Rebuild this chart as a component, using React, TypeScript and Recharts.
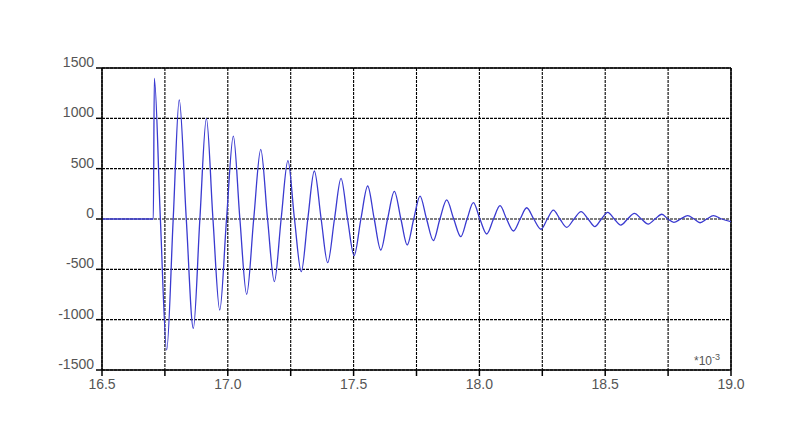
import React from 'react';
import { LineChart, Line, XAxis, YAxis, CartesianGrid, ReferenceLine } from 'recharts';

// time in ms (axis is *10^-3 s): extrema plus the zero crossings between them
const times = [
  16.5, 16.704, 16.708, 16.732, 16.757, 16.783, 16.807, 16.835, 16.863, 16.889,
  16.915, 16.941, 16.968, 16.995, 17.022, 17.048, 17.075, 17.103, 17.131, 17.158,
  17.185, 17.212, 17.239, 17.265, 17.292, 17.318, 17.344, 17.371, 17.397, 17.424,
  17.45, 17.476, 17.502, 17.529, 17.556, 17.582, 17.608, 17.635, 17.662, 17.688,
  17.713, 17.739, 17.764, 17.79, 17.817, 17.843, 17.87, 17.898, 17.926, 17.951,
  17.976, 18.002, 18.029, 18.056, 18.082, 18.108, 18.135, 18.162, 18.188, 18.216,
  18.245, 18.27, 18.294, 18.32, 18.347, 18.376, 18.404, 18.432, 18.459, 18.485,
  18.51, 18.536, 18.562, 18.589, 18.616, 18.644, 18.671, 18.698, 18.725, 18.749,
  18.773, 18.8, 18.828, 18.853, 18.877, 18.904, 18.93, 18.963, 19.0,
];

const signal = [
  0, 0, 1397, 0, -1301, 0, 1182, 0, -1086, 0,
  1000, 0, -904, 0, 824, 0, -748, 0, 692, 0,
  -622, 0, 579, 0, -523, 0, 477, 0, -434, 0,
  404, 0, -364, 0, 328, 0, -308, 0, 275, 0,
  -258, 0, 228, 0, -215, 0, 189, 0, -175, 0,
  162, 0, -149, 0, 132, 0, -119, 0, 112, 0,
  -102, 0, 89, 0, -83, 0, 73, 0, -76, 0,
  66, 0, -60, 0, 56, 0, -50, 0, 47, 0,
  -33, 0, 33, 0, -37, 0, 33, 0, -27,
];

const xTicks = [16.5, 16.75, 17.0, 17.25, 17.5, 17.75, 18.0, 18.25, 18.5, 18.75, 19.0];
const xLabels = [16.5, 17.0, 17.5, 18.0, 18.5, 19.0];
const yTicks = [-1500, -1000, -500, 0, 500, 1000, 1500];

const data = times.map((t, i) => ({ t, v: signal[i] }));

const tickStyle = { fontFamily: 'Liberation Sans, Arial, sans-serif', fontSize: 14, fill: '#555' };

export default function App() {
  return (
    <div style={{ position: 'absolute', left: 0, top: 0, width: 800, height: 445, background: '#fff' }}>
      <LineChart
        width={800}
        height={445}
        data={data}
        margin={{ top: 68, right: 69, bottom: 45, left: 42 }}
      >
        <CartesianGrid stroke="#000" strokeDasharray="3 1" strokeWidth={1.1} />
        <XAxis
          type="number"
          dataKey="t"
          domain={[16.5, 19]}
          ticks={xTicks}
          allowDataOverflow
          height={30}
          axisLine={{ stroke: '#000', strokeWidth: 1.5 }}
          tickLine={{ stroke: '#000', strokeWidth: 1.5 }}
          tickSize={6}
          tick={{ ...tickStyle, dy: 1 }}
          tickFormatter={(v: number) => (xLabels.includes(v) ? v.toFixed(1) : '')}
        />
        <YAxis
          type="number"
          domain={[-1500, 1500]}
          ticks={yTicks}
          width={60}
          axisLine={{ stroke: '#000', strokeWidth: 1.5 }}
          tickLine={{ stroke: '#000', strokeWidth: 1.5 }}
          tickSize={6}
          tick={{ ...tickStyle, dy: -6 }}
        />
        <ReferenceLine y={1500} stroke="#000" strokeWidth={1.5} />
        <ReferenceLine x={19} stroke="#000" strokeWidth={1.5} />
        <Line
          type="monotone"
          dataKey="v"
          stroke="#3a3ad0"
          strokeWidth={1.3}
          dot={false}
          isAnimationActive={false}
        />
      </LineChart>
      <div
        style={{
          position: 'absolute',
          left: 694,
          top: 352,
          fontFamily: 'Liberation Sans, Arial, sans-serif',
          fontSize: 12,
          color: '#555',
        }}
      >
        *10<sup style={{ fontSize: 9 }}>-3</sup>
      </div>
    </div>
  );
}
